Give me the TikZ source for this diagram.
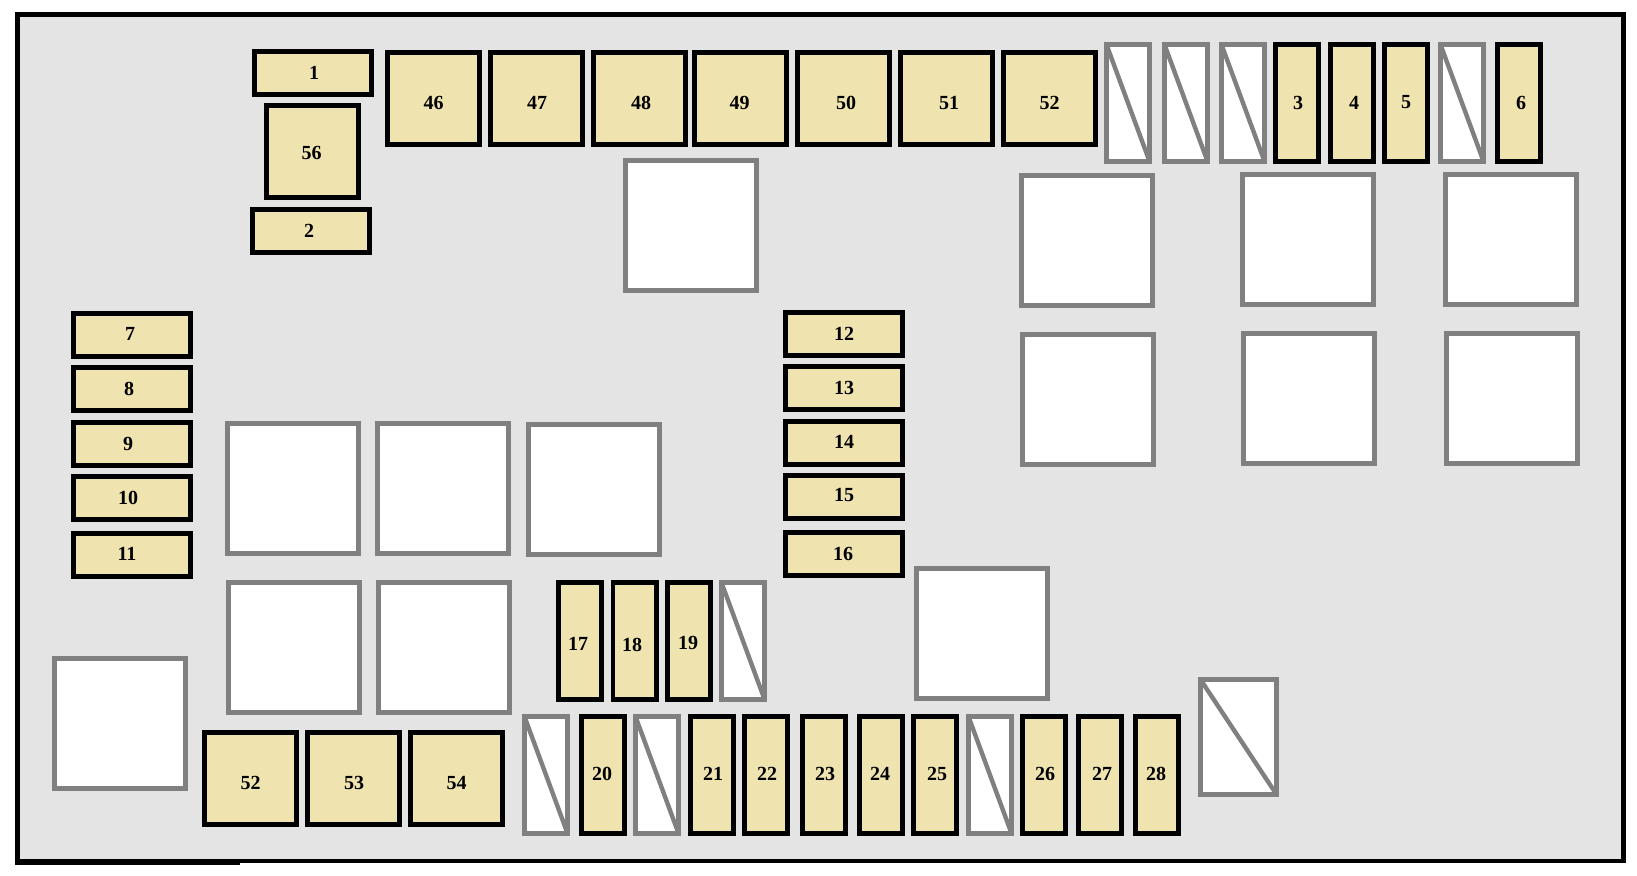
\documentclass[tikz,border=0pt]{standalone}
\usepackage{fontspec}
\usepackage{xcolor}
\setmainfont{Liberation Serif}
\definecolor{boxgray}{RGB}{228, 228, 228}
\definecolor{slotgray}{RGB}{128, 128, 128}
\definecolor{fusetan}{RGB}{239, 227, 176}
\tikzset{
    cell/.style={rectangle,inner sep=0pt,outer sep=0pt,line width=4.8pt},
    fuse/.style={cell,draw=black,fill=fusetan,font=\fontsize{20}{20}\selectfont\bfseries},
    fusebar/.style={fuse,minimum width=117.2pt,minimum height=43.2pt},
    fusetall/.style={fuse,minimum width=43.2pt,minimum height=117.2pt},
    fusesq/.style={fuse,minimum width=92.2pt,minimum height=92.2pt,text height=21.5pt},
    numleft/.style={execute at end node={\hskip #1pt}},
    numright/.style={execute at begin node={\hskip #1pt}},
    numup/.style={text depth=#1pt},
    numdown/.style={text height=#1pt},
    relaybox/.style={cell,draw=slotgray,fill=white,minimum width=131.2pt,minimum height=130.2pt},
    sparetall/.style={cell,draw=slotgray,fill=white,minimum width=43.2pt,minimum height=117.2pt},
    sparebig/.style={cell,draw=slotgray,fill=white,minimum width=76.2pt,minimum height=115.2pt},
    slash/.style={draw=slotgray,line width=4.4pt}
}
\begin{document}
\begin{tikzpicture}[x=1pt,y=-1pt]
            \useasboundingbox (0,0) rectangle (1637,875);
            \draw[fill=boxgray,line width=4.6pt] (17.5,14.4) rectangle (1623.5,861);
            \draw[line width=2.4pt] (15.2,864) -- (240,864);

            \node[fusebar,numright=2] (f1) at (313,73) {1};
            \node[fusesq,numdown=16.5,numleft=2] (f56) at (312.5,151.5) {56};
            \node[fusebar,numleft=4] (f2) at (311,231) {2};

            \node[fusesq] (f46) at (433.5,98.5) {46};
            \node[fusesq,numright=1] (f47) at (536.5,98.5) {47};
            \node[fusesq,numright=3] (f48) at (639.5,98.5) {48};
            \node[fusesq,numleft=2] (f49) at (740.5,98.5) {49};
            \node[fusesq,numright=5] (f50) at (843.5,98.5) {50};
            \node[fusesq,numright=5] (f51) at (946.5,98.5) {51};
            \node[fusesq] (f52) at (1049.5,98.5) {52};

            \node[sparetall] (s1) at (1128,103) {};
            \node[sparetall] (s2) at (1186,103) {};
            \node[sparetall] (s3) at (1243,103) {};
            \node[fusetall,numright=2] (f3) at (1297,103) {3};
            \node[fusetall,numright=4] (f4) at (1352,103) {4};
            \node[fusetall,numup=3] (f5) at (1406,103) {5};
            \node[sparetall] (s4) at (1462,103) {};
            \node[fusetall,numright=4] (f6) at (1519,103) {6};

            \node[relaybox] (r1) at (691,225.5) {};
            \node[relaybox] (r2) at (1087,240.5) {};
            \node[relaybox] (r3) at (1308,239.5) {};
            \node[relaybox] (r4) at (1511,239.5) {};
            \node[relaybox] (r5) at (1088,399.5) {};
            \node[relaybox] (r6) at (1309,398.5) {};
            \node[relaybox] (r7) at (1512,398.5) {};

            \node[fusebar,numleft=4,numup=3] (f7) at (132,335) {7};
            \node[fusebar,numleft=6] (f8) at (132,389) {8};
            \node[fusebar,numleft=8] (f9) at (132,444) {9};
            \node[fusebar,numleft=8] (f10) at (132,498) {10};
            \node[fusebar,numleft=10,numup=3] (f11) at (132,555) {11};

            \node[fusebar] (f12) at (844,334) {12};
            \node[fusebar] (f13) at (844,388) {13};
            \node[fusebar,numup=2] (f14) at (844,443) {14};
            \node[fusebar,numup=4] (f15) at (844,497) {15};
            \node[fusebar,numleft=2] (f16) at (844,554) {16};

            \node[relaybox] (r8) at (293,488.5) {};
            \node[relaybox] (r9) at (443,488.5) {};
            \node[relaybox] (r10) at (594,489.5) {};
            \node[relaybox] (r11) at (294,647.5) {};
            \node[relaybox] (r12) at (444,647.5) {};
            \node[relaybox] (r13) at (120,723.5) {};
            \node[relaybox] (r14) at (982,633.5) {};

            \node[fusetall,numdown=19.5,numleft=4] (f17) at (580,641) {17};
            \node[fusetall,numdown=20.5,numleft=5] (f18) at (634.5,641) {18};
            \node[fusetall,numdown=17.5,numleft=2] (f19) at (689,641) {19};
            \node[sparetall] (s5) at (743,641) {};

            \node[fusesq] (f52b) at (250.5,778.5) {52};
            \node[fusesq,numright=1] (f53) at (353.5,778.5) {53};
            \node[fusesq] (f54) at (456.5,778.5) {54};

            \node[sparetall] (s6) at (546,775) {};
            \node[fusetall,numleft=2,numup=2] (f20) at (603,775) {20};
            \node[sparetall] (s7) at (657,775) {};
            \node[fusetall,numright=2,numup=2] (f21) at (712,775) {21};
            \node[fusetall,numright=2,numup=2] (f22) at (766,775) {22};
            \node[fusetall,numright=2,numup=2] (f23) at (824,775) {23};
            \node[fusetall,numleft=2,numup=2] (f24) at (881,775) {24};
            \node[fusetall,numright=4,numup=2] (f25) at (935,775) {25};
            \node[sparetall] (s8) at (990,775) {};
            \node[fusetall,numright=2,numup=2] (f26) at (1044,775) {26};
            \node[fusetall,numright=4,numup=2] (f27) at (1100,775) {27};
            \node[fusetall,numleft=2,numup=2] (f28) at (1157,775) {28};
            \node[sparebig] (s9) at (1238.5,737) {};

            \draw[slash] (s1.north west) -- (s1.south east);
            \draw[slash] (s2.north west) -- (s2.south east);
            \draw[slash] (s3.north west) -- (s3.south east);
            \draw[slash] (s4.north west) -- (s4.south east);
            \draw[slash] (s5.north west) -- (s5.south east);
            \draw[slash] (s6.north west) -- (s6.south east);
            \draw[slash] (s7.north west) -- (s7.south east);
            \draw[slash] (s8.north west) -- (s8.south east);
            \draw[slash] (s9.north west) -- (s9.south east);
        \end{tikzpicture}
\end{document}
